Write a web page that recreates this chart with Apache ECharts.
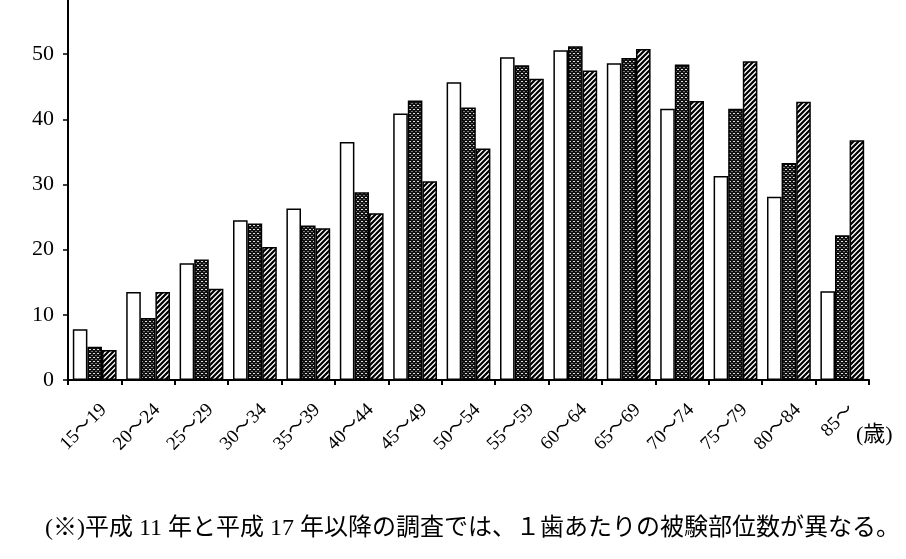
<!DOCTYPE html>
<html>
<head>
<meta charset="utf-8">
<script src="https://cdn.jsdelivr.net/npm/echarts@6/dist/echarts.min.js"></script>
<style>
html, body { margin:0; padding:0; background:#fff; }
#main { width:906px; height:559px; }
</style>
</head>
<body>
<div id="main"></div>
<script>
// 年齢階級
var ageGroups = ['15～19','20～24','25～29','30～34','35～39','40～44','45～49','50～54','55～59','60～64','65～69','70～74','75～79','80～84','85～'];
// 3 回分の調査（白・網点・斜線）
var surveyA = [7.8, 13.5, 17.9, 24.5, 26.3, 36.5, 40.9, 45.7, 49.5, 50.6, 48.6, 41.6, 31.3, 28.1, 13.6];
var surveyB = [5.1, 9.5, 18.5, 24.0, 23.7, 28.8, 42.9, 41.8, 48.3, 51.2, 49.4, 48.4, 41.6, 33.3, 22.2];
var surveyC = [4.6, 13.5, 14.0, 20.4, 23.3, 25.6, 30.5, 35.5, 46.2, 47.5, 50.8, 42.8, 48.9, 42.7, 36.8];
var yTicks = [0, 10, 20, 30, 40, 50];
var note = '(※)平成 11 年と平成 17 年以降の調査では、１歯あたりの被験部位数が異なる。';

var serif = '"Liberation Serif", "Noto Sans CJK JP", serif';

// 網点パターン
function dotPattern() {
    var c = document.createElement('canvas');
    c.width = 4; c.height = 4;
    var g = c.getContext('2d');
    g.fillStyle = '#111';
    g.fillRect(0, 0, 4, 4);
    g.fillStyle = '#ddd';
    g.fillRect(1, 1, 2, 1);
    g.fillStyle = '#777';
    g.fillRect(0, 3, 1, 1);
    g.fillRect(3, 3, 1, 1);
    return c;
}
// 斜線パターン
function hatchPattern() {
    var c = document.createElement('canvas');
    c.width = 5; c.height = 5;
    var g = c.getContext('2d');
    g.fillStyle = '#fff';
    g.fillRect(0, 0, 5, 5);
    g.strokeStyle = '#000';
    g.lineWidth = 2.2;
    g.beginPath();
    g.moveTo(-1, 6); g.lineTo(6, -1);
    g.moveTo(-1, 1); g.lineTo(1, -1);
    g.moveTo(4, 6); g.lineTo(6, 4);
    g.stroke();
    return c;
}

var chart = echarts.init(document.getElementById('main'));
var barBorder = { borderColor: '#000', borderWidth: 1.5 };

var option = {
    animation: false,
    grid: [
        { left: 68, right: 37, top: 0, bottom: 179 },
        // ラベル用（少し右にずらす）
        { left: 77, right: 28, top: 0, bottom: 179 }
    ],
    xAxis: [
        {
            type: 'category',
            data: ageGroups,
            gridIndex: 0,
            axisLine: { lineStyle: { color: '#000', width: 2 } },
            axisTick: { show: true, interval: 0, length: 5, lineStyle: { color: '#000', width: 2 } },
            axisLabel: { show: false }
        },
        {
            type: 'category',
            data: ageGroups,
            gridIndex: 1,
            axisLine: { show: false },
            axisTick: { show: false },
            axisLabel: {
                interval: 0,
                rotate: 45,
                margin: 27,
                color: '#000',
                fontFamily: serif,
                fontSize: 19
            }
        }
    ],
    yAxis: [
        {
            type: 'value',
            gridIndex: 0,
            min: 0,
            max: 58.3,
            interval: 10,
            splitLine: { show: false },
            axisLine: { show: true, lineStyle: { color: '#000', width: 2 } },
            axisTick: { show: true, length: 5, customValues: yTicks, lineStyle: { color: '#000', width: 1.5 } },
            axisLabel: { customValues: yTicks, color: '#000', fontFamily: serif, fontSize: 22, margin: 14 }
        },
        { type: 'value', gridIndex: 1, show: false }
    ],
    series: [
        {
            type: 'bar', data: surveyA, barGap: '0%', barCategoryGap: '18%',
            itemStyle: Object.assign({ color: '#fff' }, barBorder)
        },
        {
            type: 'bar', data: surveyB, barGap: '0%', barCategoryGap: '18%',
            itemStyle: Object.assign({ color: { image: dotPattern(), repeat: 'repeat' } }, barBorder)
        },
        {
            type: 'bar', data: surveyC, barGap: '0%', barCategoryGap: '18%',
            itemStyle: Object.assign({ color: { image: hatchPattern(), repeat: 'repeat' } }, barBorder)
        }
    ],
    graphic: [
        {
            type: 'text', left: 856, top: 424,
            style: { text: '(歳)', fill: '#000', font: '22px ' + serif }
        },
        {
            type: 'text', left: 45, top: 517,
            style: { text: note, fill: '#000', font: '24px ' + serif }
        }
    ]
};
chart.setOption(option);
</script>
</body>
</html>
